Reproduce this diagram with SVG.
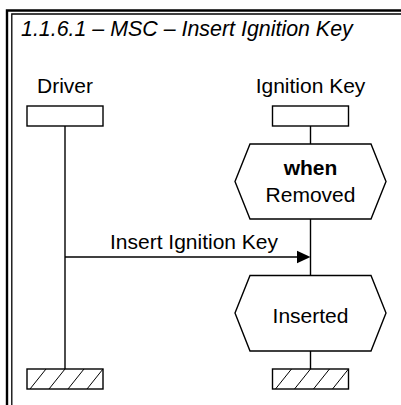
<svg xmlns="http://www.w3.org/2000/svg" width="401" height="405" viewBox="0 0 401 405">
<style>
text{font-family:"Liberation Sans",Arial,sans-serif;font-size:21px;fill:#000}
.title{font-style:italic;font-size:21.4px}
.b{font-weight:bold}
.box{fill:#fff;stroke:#000;stroke-width:1.4}
.line{stroke:#000;stroke-width:1.4;fill:none}
.hatch{stroke:#000;stroke-width:1;fill:none}
</style>
<g id="frame" fill="none" stroke="#000">
<path d="M7,405 V10.5 H401" stroke-width="2.4"/>
<path d="M11.8,405 V14 H401" stroke-width="1.3"/>
</g>
<text id="title" class="title" x="21" y="36">1.1.6.1 – MSC – Insert Ignition Key</text>
<g id="connectors">
<line class="line" x1="65" y1="126" x2="65" y2="369"/>
<line class="line" x1="310.5" y1="126" x2="310.5" y2="144"/>
<line class="line" x1="310.5" y1="219" x2="310.5" y2="275.5"/>
<line class="line" x1="310.5" y1="351" x2="310.5" y2="369"/>
<g id="msg">
<line class="line" x1="65" y1="257" x2="298" y2="257"/>
<polygon points="310.5,257 297,250.7 297,263.3" fill="#000"/>
<text x="194" y="249" text-anchor="middle">Insert Ignition Key</text>
</g>
</g>
<g id="driver">
<text x="65" y="93" text-anchor="middle">Driver</text>
<rect class="box" x="27" y="106" width="76" height="20"/>
</g>
<g id="ignition">
<text x="310.5" y="93" text-anchor="middle">Ignition Key</text>
<rect class="box" x="272.5" y="106" width="76" height="20"/>
</g>
<g id="state-removed">
<polygon class="box" points="250,144 371,144 386,181.5 371,219 250,219 235,181.5"/>
<text class="b" x="310.5" y="175" text-anchor="middle">when</text>
<text x="310.5" y="201.5" text-anchor="middle">Removed</text>
</g>
<g id="state-inserted">
<polygon class="box" points="250,275.5 371,275.5 386,313 371,351 250,351 235,313"/>
<text x="310.5" y="322.5" text-anchor="middle">Inserted</text>
</g>
<g id="driver-end">
<rect class="box" x="27" y="369" width="76" height="20"/>
<path class="hatch" d="M30,389 L46,369 M49,389 L65,369 M68,389 L84,369 M87,389 L103,369"/>
</g>
<g id="ignition-end">
<rect class="box" x="272.5" y="369" width="76" height="20"/>
<path class="hatch" d="M275.5,389 L291.5,369 M294.5,389 L310.5,369 M313.5,389 L329.5,369 M332.5,389 L348.5,369"/>
</g>
</svg>
